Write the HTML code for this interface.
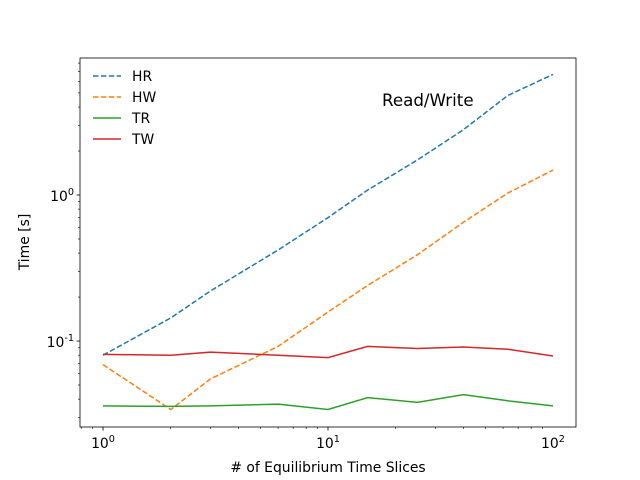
<!DOCTYPE html>
<html><head><meta charset="utf-8"><style>
body{margin:0;background:#fff}
svg{display:block;font-family:"DejaVu Sans","Liberation Sans",sans-serif}
</style></head><body>
<svg id="chart" width="640" height="480">
</svg>
<script>
const xs=[1,2,3,6,10,15,25,40,63,100];
const hrValues=[0.080,0.144,0.22,0.42,0.70,1.08,1.74,2.8,4.8,6.7];
const hwValues=[0.069,0.034,0.055,0.092,0.158,0.24,0.39,0.65,1.03,1.48];
const trValues=[0.036,0.0357,0.036,0.037,0.034,0.041,0.038,0.043,0.039,0.036];
const twValues=[0.081,0.080,0.084,0.080,0.077,0.092,0.089,0.091,0.088,0.079];
const seriesNames=["HR","HW","TR","TW"];
const xTickVals=[1,10,100];
const yTickVals=[0.1,1];
const NS="http://www.w3.org/2000/svg";
const svg=document.getElementById('chart');
const L=80,R=576,T=58,B=427;
const xmin=Math.log10(0.79),xmax=Math.log10(126.6),ymin=Math.log10(0.0258),ymax=Math.log10(8.67);
function X(v){return L+(Math.log10(v)-xmin)/(xmax-xmin)*(R-L);}
function Y(v){return B-(Math.log10(v)-ymin)/(ymax-ymin)*(B-T);}
function el(t,a){const e=document.createElementNS(NS,t);for(const k in a)e.setAttribute(k,a[k]);svg.appendChild(e);return e;}
const series=[[hrValues,"#1f77b4",true],[hwValues,"#ff7f0e",true],[trValues,"#2ca02c",false],[twValues,"#d62728",false]];
series.forEach((s,i)=>{
 const p=el('polyline',{points:xs.map((x,j)=>X(x).toFixed(1)+','+Y(s[0][j]).toFixed(1)).join(' '),fill:'none',stroke:s[1],'stroke-width':1.5,'stroke-dasharray':s[2]?'5.5,2.4':'none'});
 
 
});
const fr=el('rect',{x:L,y:T,width:R-L,height:B-T,fill:'none',stroke:'#000','stroke-width':0.8});


for(let d=0;d<=2;d++){for(let m=1;m<10;m++){const v=m*Math.pow(10,d-1);if(v<0.79||v>126.6)continue;const x=X(v);el('line',{x1:x,x2:x,y1:B,y2:B+(m==1?3.5:2),stroke:'#000','stroke-width':m==1?0.8:0.6});}}
xTickVals.forEach(v=>{const x=X(v);const t=el('text',{x:x,y:B+21,'text-anchor':'middle','font-size':13.9});t.innerHTML='10<tspan dy="-6" font-size="9.7">'+Math.round(Math.log10(v))+'</tspan>';

});
for(let d=-2;d<=0;d++){for(let m=1;m<10;m++){const v=m*Math.pow(10,d);if(v<0.0258||v>8.67)continue;const y=Y(v);el('line',{x1:L,x2:L-(m==1?3.5:2),y1:y,y2:y,stroke:'#000','stroke-width':m==1?0.8:0.6});}}
yTickVals.forEach(v=>{const y=Y(v);const t=el('text',{x:L-6,y:y+6,'text-anchor':'end','font-size':13.9});t.innerHTML='10<tspan dy="-6" font-size="9.7">'+Math.round(Math.log10(v))+'</tspan>';

});
let t=el('text',{x:(L+R)/2,y:472,'text-anchor':'middle','font-size':13.9});t.textContent='# of Equilibrium Time Slices';


t=el('text',{x:0,y:0,'text-anchor':'middle','font-size':13.9,transform:'translate(29,242) rotate(-90)'});t.textContent='Time [s]';


t=el('text',{x:382,y:106,'font-size':16.7});t.textContent='Read/Write';


series.forEach((s,i)=>{const y=76+i*21;
 const ln=el('line',{x1:93,x2:121,y1:y,y2:y,stroke:s[1],'stroke-width':1.5,'stroke-dasharray':s[2]?'5.5,2.4':'none'});
 
 
 const tx=el('text',{x:132,y:y+5,'font-size':13.9});tx.textContent=seriesNames[i];
 
 
});
</script>
</body></html>
